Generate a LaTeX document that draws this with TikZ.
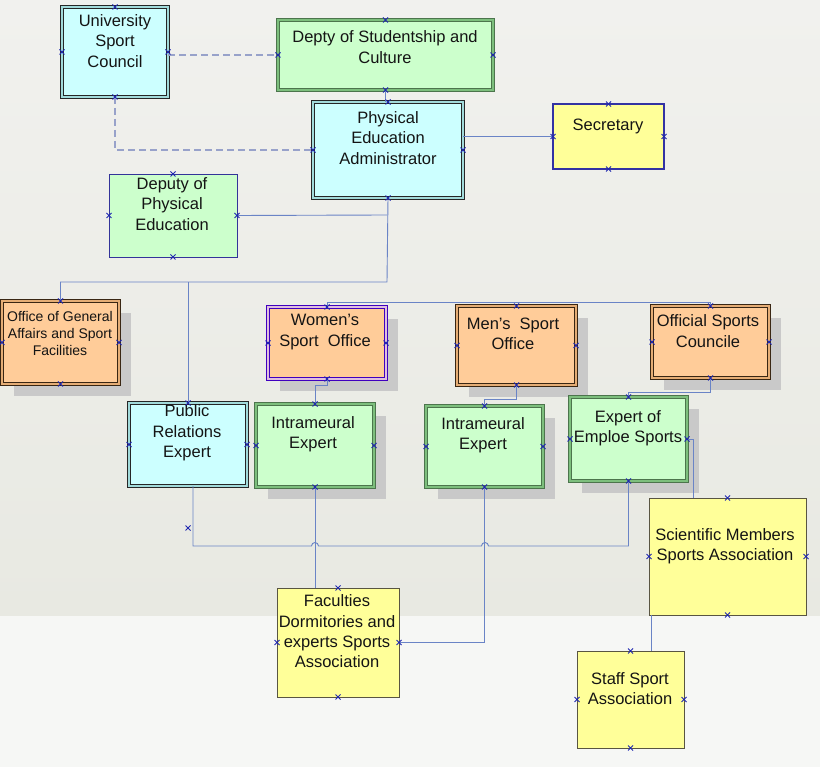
\documentclass[tikz,border=0pt]{standalone}
\usepackage{fontspec}
\setmainfont{Liberation Sans}
\usetikzlibrary{shadows,calc}
\definecolor{bgtop}{HTML}{F1F1EE}
\definecolor{bgmid}{HTML}{E8E9E2}
\definecolor{bgbot}{HTML}{F6F7F5}
\definecolor{cyanf}{HTML}{CCFFFF}
\definecolor{greenf}{HTML}{CCFFCC}
\definecolor{orangef}{HTML}{FFCC99}
\definecolor{yellowf}{HTML}{FFFF99}
\definecolor{conc}{HTML}{6A84C6}
\definecolor{dashcol}{HTML}{98A2CA}
\definecolor{mkc}{HTML}{2028B0}
\definecolor{txtc}{HTML}{141414}
\definecolor{shc}{HTML}{C9C9C9}
\newcommand\bx[6]{\node[#1,minimum width=#5pt,minimum height=#6pt,anchor=north west] (#2) at (#3,#4) {};}
\begin{document}
\begin{tikzpicture}[x=1pt,y=-1pt,
  boxbase/.style={rectangle,inner sep=0pt,outer sep=0pt},
  cyanbox/.style={boxbase,fill=cyanf,draw=black!85,double=cyanf!60!teal!70,double distance=1.6pt,line width=0.8pt},
  greenbox/.style={boxbase,fill=greenf,draw=black!60!green!40!gray,double=greenf!60!green!50!gray,double distance=1.6pt,line width=0.8pt},
  greensingle/.style={boxbase,fill=greenf,draw=blue!50!black!80,line width=0.9pt},
  orangebox/.style={boxbase,fill=orangef,draw=black!70!brown,double=orangef!60!brown,double distance=1.6pt,line width=0.8pt},
  purplebox/.style={boxbase,fill=orangef,draw=violet!50!blue,double=violet!25!white,double distance=1.6pt,line width=0.8pt},
  secbox/.style={boxbase,fill=yellowf,draw=blue!55!black!80,line width=1.2pt},
  yellowbox/.style={boxbase,fill=yellowf,draw=black!75!yellow,line width=1pt},
  shad/.style={drop shadow={shadow xshift=12pt,shadow yshift=-12pt,fill=shc,opacity=1}},
  txt/.style={align=center,inner sep=0pt,text=txtc,font=\fontsize{16.5}{20.3}\selectfont},
  smalltxt/.style={align=center,inner sep=0pt,text=txtc,font=\fontsize{14}{17}\selectfont},
  con/.style={draw=conc,line width=0.9pt},
  dcon/.style={draw=dashcol,line width=1.4pt,dash pattern=on 7pt off 4pt},
  xm/.pic={\draw[mkc,line width=0.8pt] (-2.5pt,-2.5pt)--(2.5pt,2.5pt) (-2.5pt,2.5pt)--(2.5pt,-2.5pt);}
]
\useasboundingbox (0,0) rectangle (820,767);
% background
\shade[top color=bgtop,bottom color=bgmid] (0,0) rectangle (820,616);
\fill[bgbot] (0,616) rectangle (820,767);

% boxes
\bx{cyanbox}{usc}{62}{7}{106}{90}
\bx{greenbox}{depty}{278}{20}{215}{70}
\bx{cyanbox}{pea}{313}{102}{150}{96}
\bx{greensingle}{dpe}{109}{174}{128}{83}
\bx{secbox}{sec}{553}{104}{111}{65}
\bx{orangebox,shad}{oga}{2}{301}{117}{83}
\bx{purplebox,shad}{women}{268}{307}{118}{72}
\bx{orangebox,shad}{men}{457}{306}{119}{79}
\bx{orangebox,shad}{off}{652}{306}{117}{72}
\bx{cyanbox}{pr}{129}{403}{118}{83}
\bx{greenbox,shad}{i1}{256}{404}{118}{83}
\bx{greenbox,shad}{i2}{426}{406}{117}{81}
\bx{greenbox,shad}{exp}{570}{397}{117}{84}
\bx{yellowbox}{sci}{649}{498}{157}{117}
\bx{yellowbox}{fac}{277}{588}{122}{109}
\bx{yellowbox}{staff}{577}{651}{107}{97}

% texts
\node[txt] (usc-t) at (115,41) {University\\Sport\\Council};
\node[txt] (depty-t) at (385,47) {Depty of Studentship and\\Culture};
\node[txt] (pea-t) at (388,138) {Physical\\Education\\Administrator};
\node[txt] (dpe-t) at (172,204) {Deputy of\\Physical\\Education};
\node[txt] (sec-t) at (608,126) {Secretary};
\node[smalltxt] (oga-t) at (60,333) {Office of General\\Affairs and Sport\\Facilities};
\node[txt] (women-t) at (325,332) {Women’s\\Sport\ \ Office};
\node[txt] (men-t) at (513,334) {Men’s\ \ Sport\\Office};
\node[txt] (off-t) at (708,331) {Official Sports\\Councile};
\node[txt] (pr-t) at (187,433) {Public\\Relations\\Expert};
\node[txt] (i1-t) at (313,434.5) {Intrameural\\Expert};
\node[txt] (i2-t) at (483,435) {Intrameural\\Expert};
\node[txt] (exp-t) at (628,428) {Expert of\\Emploe Sports};
\node[txt] (sci-t) at (725,546) {Scientific Members\\Sports Association};
\node[txt] (fac-t) at (337,631.5) {Faculties\\Dormitories and\\experts Sports\\Association};
\node[txt] (staff-t) at (630,688.5) {Staff Sport\\Association};

% connectors
\coordinate (j0) at (387,215);
\coordinate (j1) at (387,282);
\coordinate (prb) at (193,486);
\coordinate (bus) at (193,546);
\coordinate (sciin) at (693,498);
\coordinate (scib) at (651,615);
\draw[dcon] (usc.east |- depty.west) -- (depty.west);
\draw[dcon] (usc.south) |- (pea.west);
\draw[con] (depty.south) -- (depty.south |- pea.north);
\draw[con] (sec.west) -- (sec.west -| pea.east);
\draw[con] (pea.south) -- (j1) -| (oga.north);
\draw[con] (dpe.east) -- (j0);
\draw[con] (pr.north) -- (pr.north |- j1);
\draw[con] (women.north) -- ++(0,-5) -| (off.north);
\draw[con] (women.south) -- ++(0,6) -| (i1.north);
\draw[con] (men.south) -- ++(0,14) -| (i2.north);
\draw[con] (off.south) -- ++(0,14) -| (exp.north);
\draw[con] (exp.east) -| (sciin);
\draw[con] (prb) -- (bus) -- (311.5,546) arc(180:360:3.5) -- (481.5,546) arc(180:360:3.5) -- (exp.south |- bus) -- (exp.south);
\draw[con] (i1.south) -- (i1.south |- fac.north);
\draw[con] (i2.south) |- (fac.east);
\draw[con] (scib) -- (scib |- staff.north);

% connection markers
\foreach \n in {usc,depty,pea,dpe,sec,oga,women,men,off,i1,i2,exp,sci,fac,staff}
  \foreach \a in {north,south,east,west}
    \pic at (\n.\a) {xm};
\foreach \a in {north,east,west}
  \pic at (pr.\a) {xm};
\pic at (188,528) {xm};
\end{tikzpicture}
\end{document}
